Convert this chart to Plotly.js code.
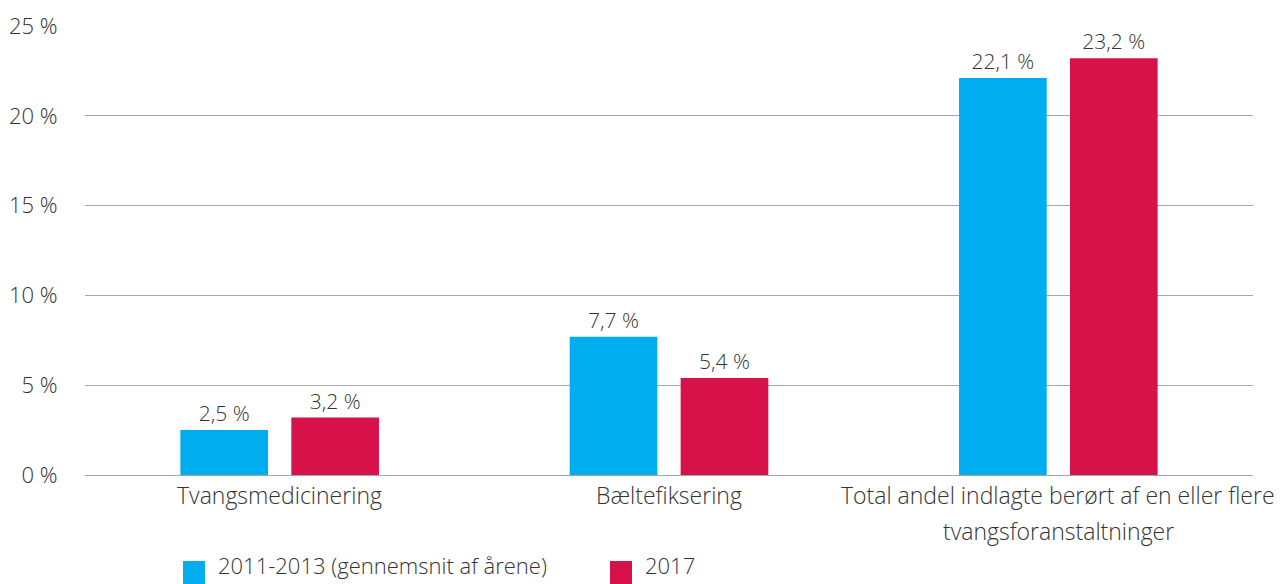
<!DOCTYPE html>
<html>
<head>
<meta charset="utf-8">
<script src="https://cdn.plot.ly/plotly-3.0.1.min.js"></script>
<style>html,body{margin:0;padding:0;background:#fff;}#chart{width:1285px;height:584px;overflow:hidden;}</style>
</head>
<body>
<div id="chart"></div>
<script>
const categories = ["Tvangsmedicinering", "Bæltefiksering", "Total andel indlagte berørt af en eller flere<br>tvangsforanstaltninger"];
const seriesNames = ["2011-2013 (gennemsnit af årene)", "2017"];
const avg2011_2013 = [2.5, 7.7, 22.1];
const y2017 = [3.2, 5.4, 23.2];
const yTicks = [0, 5, 10, 15, 20, 25];
const yTickText = ["0 %", "5 %", "10 %", "15 %", "20 %", "25 %"];

const FONT = "Open Sans, Lato, sans-serif";
const FW = 300;
const FS = 22;
const FS_BAR = 21;
const FS_CAT = 23;
const TXT = "#333333";
const BLUE = "#00AEEF";
const RED = "#D7114A";
const colors = [BLUE, RED];

const traces = [
  {type: "bar", x: categories, y: avg2011_2013, name: seriesNames[0], marker: {color: BLUE},
   texttemplate: "%{y:.1f} %", textposition: "outside", cliponaxis: false,
   textfont: {family: FONT, size: FS_BAR, color: TXT, weight: FW}, showlegend: false, hoverinfo: "skip"},
  {type: "bar", x: categories, y: y2017, name: seriesNames[1], marker: {color: RED},
   texttemplate: "%{y:.1f} %", textposition: "outside", cliponaxis: false,
   textfont: {family: FONT, size: FS_BAR, color: TXT, weight: FW}, showlegend: false, hoverinfo: "skip"}
];

// category labels drawn as annotations (line spacing as in the reference)
const annotations = [];
categories.forEach(function (c) {
  c.split("<br>").forEach(function (line, i) {
    annotations.push({x: c, xref: "x", y: 0, yref: "paper", yanchor: "middle", xanchor: "center",
      yshift: -20 - 36 * i, text: line, showarrow: false,
      font: {family: FONT, size: FS_CAT, color: TXT, weight: FW}});
  });
});

// legend (manual, to match symbol size and placement)
const legX = [0.0839, 0.4495];
const shapes = [];
seriesNames.forEach(function (n, i) {
  shapes.push({type: "rect", xref: "paper", yref: "paper", x0: legX[i], x1: legX[i] + 0.0188,
    y0: -0.1915, y1: -0.245, fillcolor: colors[i], line: {width: 0}, layer: "above"});
  annotations.push({x: legX[i] + 0.0290, xref: "paper", y: -0.201, yref: "paper", xanchor: "left",
    yanchor: "middle", text: n, showarrow: false, borderpad: 0,
    font: {family: FONT, size: 22, color: TXT, weight: FW}});
});

const layout = {
  width: 1285, height: 584,
  margin: {l: 85, r: 32, t: 26, b: 109},
  paper_bgcolor: "#ffffff", plot_bgcolor: "#ffffff",
  separators: ", ",
  font: {family: FONT, size: FS, color: TXT, weight: FW},
  barmode: "group", bargap: 0.43, bargroupgap: 0.21,
  showlegend: false,
  xaxis: {type: "category", range: [-0.5, 2.5], autorange: false, showgrid: false, zeroline: false,
          showline: false, ticks: "", showticklabels: false, fixedrange: true},
  yaxis: {range: [0, 25], tickmode: "array", tickvals: yTicks, ticktext: yTickText, showgrid: true,
          gridcolor: "#a6a6a6", gridwidth: 1, zeroline: true, zerolinecolor: "#a6a6a6",
          zerolinewidth: 1, showline: false, ticks: "outside", ticklen: 22, tickcolor: "rgba(0,0,0,0)",
          tickfont: {family: FONT, size: FS, color: TXT, weight: FW}, fixedrange: true},
  shapes: shapes,
  annotations: annotations
};

Plotly.newPlot("chart", traces, layout, {displayModeBar: false, staticPlot: true});
</script>
</body>
</html>
